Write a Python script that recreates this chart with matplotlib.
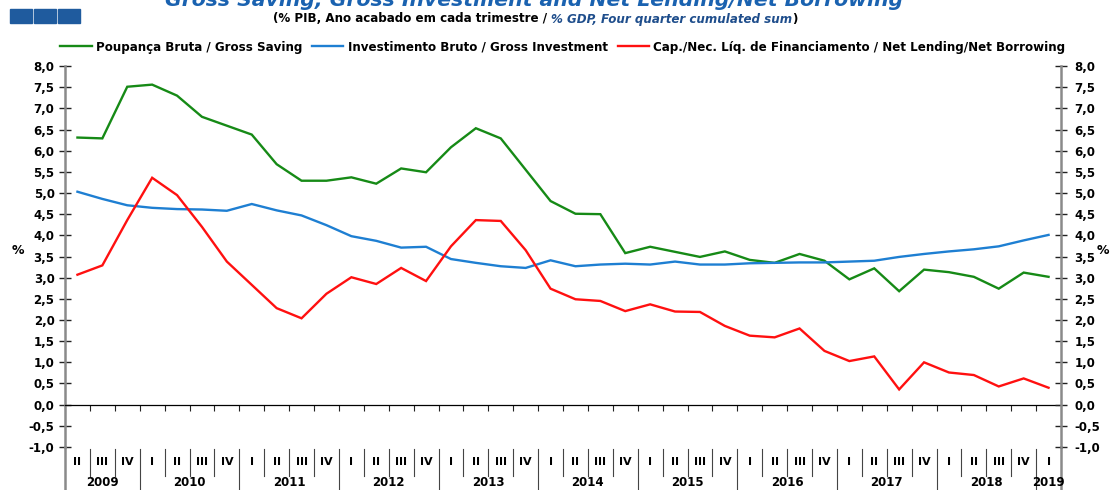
import numpy as np
import matplotlib
matplotlib.use('Agg')
import matplotlib.pyplot as plt
import matplotlib.transforms as mtransforms
from matplotlib.patches import Rectangle
from matplotlib.ticker import FuncFormatter

plt.rcParams['font.family'] = ['DejaVu Sans']
plt.rcParams['font.weight'] = 'bold'

# quarters 2009 II .. 2019 I
quarters = ['II', 'III', 'IV'] + ['I', 'II', 'III', 'IV'] * 9 + ['I']
years = ['2009', '2010', '2011', '2012', '2013', '2014', '2015', '2016', '2017', '2018', '2019']

gross_saving = [6.31, 6.29, 7.51, 7.56, 7.30, 6.80, 6.59, 6.38, 5.68, 5.29,
                5.29, 5.37, 5.22, 5.58, 5.49, 6.08, 6.53, 6.29, 5.55, 4.81,
                4.51, 4.50, 3.58, 3.73, 3.61, 3.49, 3.62, 3.42, 3.35, 3.56,
                3.40, 2.96, 3.22, 2.68, 3.19, 3.13, 3.02, 2.74, 3.12, 3.02]
gross_investment = [5.03, 4.86, 4.71, 4.65, 4.62, 4.61, 4.58, 4.74, 4.59, 4.47,
                    4.24, 3.98, 3.87, 3.71, 3.73, 3.44, 3.35, 3.27, 3.23, 3.41,
                    3.27, 3.31, 3.33, 3.31, 3.38, 3.31, 3.31, 3.34, 3.35, 3.36,
                    3.36, 3.38, 3.40, 3.49, 3.56, 3.62, 3.67, 3.74, 3.88, 4.01]
net_lending = [3.07, 3.29, 4.36, 5.36, 4.95, 4.20, 3.38, 2.83, 2.28, 2.04,
               2.62, 3.01, 2.85, 3.23, 2.92, 3.74, 4.36, 4.34, 3.65, 2.74,
               2.49, 2.45, 2.21, 2.37, 2.20, 2.19, 1.86, 1.63, 1.59, 1.80,
               1.27, 1.03, 1.14, 0.36, 1.00, 0.76, 0.70, 0.43, 0.62, 0.40]

series_names = ['Poupança Bruta / Gross Saving',
                'Investimento Bruto / Gross Investment',
                'Cap./Nec. Líq. de Financiamento / Net Lending/Net Borrowing']
colors = ['#168a16', '#1e7fd2', '#ff1010']

W, H = 1110, 490
fig = plt.figure(figsize=(W / 100, H / 100), dpi=100)
ax = fig.add_axes([65 / W, 1 - 447 / H, (1061 - 65) / W, (447 - 66) / H])

x = np.arange(len(quarters))
lines = []
for vals, name, c in zip([gross_saving, gross_investment, net_lending], series_names, colors):
    ln, = ax.plot(x, vals, color=c, lw=1.7, label=name, solid_joinstyle='miter')
    lines.append(ln)

ax.set_xlim(-0.5, len(quarters) - 0.5)
ax.set_ylim(-1, 8)
yt = np.arange(-1, 8.01, 0.5)
fmt = FuncFormatter(lambda v, p: f'{v + 0:.1f}'.replace('.', ','))
ax.set_yticks(yt)
ax.yaxis.set_major_formatter(fmt)
ax.tick_params(axis='y', direction='inout', length=9, width=1, color='#222222',
               pad=3, labelsize=8.5)

# category boundaries on the zero line
bounds = np.arange(len(quarters) - 1) + 0.5
ax.set_xticks(bounds)
ax.set_xticklabels([])
ax.tick_params(axis='x', direction='out', length=4, width=0.8, color='#222222')
ax.spines['bottom'].set_position(('data', 0))
ax.spines['bottom'].set_linewidth(0.9)
ax.spines['top'].set_visible(False)
ax.spines['right'].set_visible(False)
ax.spines['left'].set_color('#8a8a8a')
ax.spines['left'].set_linewidth(1.8)

ax2 = ax.twinx()
ax2.set_ylim(-1, 8)
ax2.set_yticks(yt)
ax2.yaxis.set_major_formatter(fmt)
ax2.tick_params(axis='y', direction='inout', length=9, width=1, color='#222222',
                pad=5, labelsize=8.5)
for s in ['top', 'left', 'bottom']:
    ax2.spines[s].set_visible(False)
ax2.spines['right'].set_color('#8a8a8a')
ax2.spines['right'].set_linewidth(1.8)

# quarter / year labels under the plot
trans = mtransforms.blended_transform_factory(ax.transData, ax.transAxes)
for i, q in enumerate(quarters):
    ax.text(i, -0.039, q, transform=trans, ha='center', va='center', fontsize=8)
year_starts = [0] + [i for i, q in enumerate(quarters) if q == 'I']
year_ends = year_starts[1:] + [len(quarters)]
for b in bounds:
    is_year = int(b + 0.5) in year_starts
    ax.plot([b, b], [-0.005, -0.113 if is_year else -0.076], transform=trans,
            color='#444444', lw=0.8, clip_on=False)
for edge in [-0.5, len(quarters) - 0.5]:
    ax.plot([edge, edge], [0, -0.113], transform=trans, color='#8a8a8a',
            lw=1.8, clip_on=False)
for yr, s, e in zip(years, year_starts, year_ends):
    ax.text((s + e - 1) / 2, -0.094, yr, transform=trans, ha='center',
            va='center', fontsize=8.5)

fig.text(18 / W, 1 - 250 / H, '%', ha='center', va='center', fontsize=9)
fig.text(1103 / W, 1 - 250 / H, '%', ha='center', va='center', fontsize=9)

# three squares top left
for x0 in [10, 34, 58]:
    fig.patches.append(Rectangle((x0 / W, 1 - 23 / H), 22 / W, 14 / H,
                                 transform=fig.transFigure, color='#1f5b9e'))

fig.text(534 / W, 1 - 6 / H, 'Gross Saving, Gross Investment and Net Lending/Net Borrowing',
         ha='center', va='baseline', fontsize=14.7, style='italic', color='#1a62b0')

# subtitle in three pieces
parts = [('(% PIB, Ano acabado em cada trimestre / ', 'black', 'normal'),
         ('% GDP, Four quarter cumulated sum', '#1f4e8c', 'italic'),
         (')', 'black', 'normal')]
renderer = fig.canvas.get_renderer()
texts = []
for s, c, st in parts:
    t = fig.text(0, 1 - 19 / H, s, ha='left', va='center', fontsize=8.6,
                 color=c, style=st)
    texts.append(t)
widths = [t.get_window_extent(renderer).width for t in texts]
xpos = 535 - sum(widths) / 2
for t, w in zip(texts, widths):
    t.set_x(xpos / W)
    xpos += w

fig.legend(handles=lines, loc='center', bbox_to_anchor=(563 / W, 1 - 47 / H),
           ncol=3, frameon=False, fontsize=8.6, handlelength=2.6,
           handletextpad=0.4, columnspacing=0.8)

fig.savefig('out.png', dpi=100)
